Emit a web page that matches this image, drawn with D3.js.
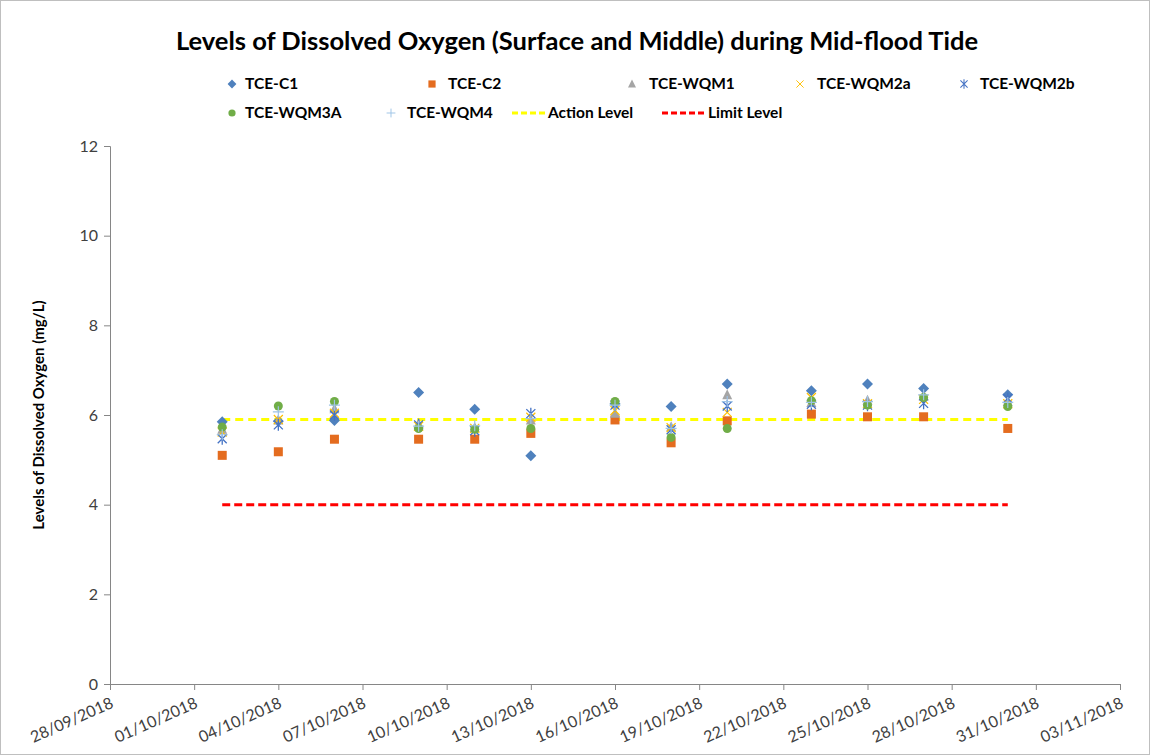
<!DOCTYPE html>
<html>
<head>
<meta charset="utf-8">
<script src="https://cdn.jsdelivr.net/npm/d3@7"></script>
<style>
  html, body { margin: 0; padding: 0; background: #ffffff; }
  svg text { font-family: Lato, "Open Sans", sans-serif; }
</style>
</head>
<body>
<svg id="chart" width="1150" height="755"></svg>
<script>
// ---------------- data ----------------
const sampleDates = ["02/10/2018","04/10/2018","06/10/2018","09/10/2018","11/10/2018","13/10/2018",
                     "16/10/2018","18/10/2018","20/10/2018","23/10/2018","25/10/2018","27/10/2018","30/10/2018"];
const seriesNames = ["TCE-C1","TCE-C2","TCE-WQM1","TCE-WQM2a","TCE-WQM2b","TCE-WQM3A","TCE-WQM4"];
const tceC1    = [5.85, 5.86, 5.88, 6.50, 6.13, 5.09, 6.25, 6.19, 6.69, 6.54, 6.69, 6.59, 6.45];
const tceC2    = [5.10, 5.18, 5.46, 5.46, 5.46, 5.59, 5.89, 5.38, 5.87, 6.02, 5.96, 5.96, 5.70];
const tceWQM1  = [5.68, 5.89, 6.14, 5.81, 5.72, 5.89, 6.04, 5.74, 6.45, 6.28, 6.33, 6.42, 6.30];
const tceWQM2a = [5.62, 5.90, 6.04, 5.75, 5.70, 5.95, 6.10, 5.72, 6.06, 6.39, 6.25, 6.35, 6.25];
const tceWQM2b = [5.47, 5.78, 6.00, 5.78, 5.65, 6.03, 6.22, 5.67, 6.20, 6.24, 6.22, 6.26, 6.37];
const tceWQM3A = [5.73, 6.20, 6.30, 5.70, 5.68, 5.70, 6.30, 5.50, 5.70, 6.32, 6.22, 6.39, 6.19];
const tceWQM4  = [5.56, 6.07, 6.22, 5.75, 5.76, 5.92, 6.22, 5.70, 6.30, 6.28, 6.30, 6.45, 6.28];
const actionLevel = 5.9;
const limitLevel = 4;
const xTickLabels = ["28/09/2018","01/10/2018","04/10/2018","07/10/2018","10/10/2018","13/10/2018",
                     "16/10/2018","19/10/2018","22/10/2018","25/10/2018","28/10/2018","31/10/2018","03/11/2018"];
const yTickValues = [0, 2, 4, 6, 8, 10, 12];

// ---------------- setup ----------------
const parse = d3.timeParse("%d/%m/%Y");
const fmt = d3.timeFormat("%d/%m/%Y");
const svg = d3.select("#chart");
const W = 1150, H = 755;
const plotL = 110, plotR = 1120, plotT = 146, plotB = 684;

svg.append("rect").attr("x", 0.5).attr("y", 0.5).attr("width", W - 1).attr("height", H - 1)
  .attr("fill", "#fff").attr("stroke", "#bfbfbf").attr("stroke-width", 1);

const xTickDates = xTickLabels.map(parse);
const x = d3.scaleTime().domain([xTickDates[0], xTickDates[xTickDates.length - 1]]).range([plotL, plotR]);
const y = d3.scaleLinear().domain([0, 12]).range([plotB, plotT]);

// title
svg.append("text").attr("x", 577).attr("y", 50).attr("text-anchor", "middle")
  .attr("font-size", 25.5).attr("font-weight", "bold").attr("fill", "#000")
  .text("Levels of Dissolved Oxygen (Surface and Middle) during Mid-flood Tide");

// axes
const yAxis = d3.axisLeft(y).tickValues(yTickValues).tickSize(6).tickPadding(6).tickFormat(d3.format("d"));
const gy = svg.append("g").attr("transform", `translate(${plotL},0)`).call(yAxis);
gy.select(".domain").attr("stroke", "#868686");
gy.selectAll(".tick line").attr("stroke", "#868686");
gy.selectAll(".tick text").attr("font-size", 16).attr("fill", "#404040")
  .style("font-family", "Lato, sans-serif");

const xAxis = d3.axisBottom(x).tickValues(xTickDates).tickSize(6).tickFormat(fmt);
const gx = svg.append("g").attr("transform", `translate(0,${plotB})`).call(xAxis);
gx.select(".domain").attr("stroke", "#868686");
gx.selectAll(".tick line").attr("stroke", "#868686");
gx.selectAll(".tick text").attr("font-size", 16).attr("fill", "#404040")
  .style("font-family", "Lato, sans-serif")
  .attr("text-anchor", "end").attr("dy", null).attr("y", 0)
  .attr("transform", "translate(4,23) rotate(-24)");

// y axis title
svg.append("text").attr("transform", `translate(44,${(plotT + plotB) / 2}) rotate(-90)`)
  .attr("text-anchor", "middle").attr("font-size", 15).attr("font-weight", "bold").attr("fill", "#000")
  .text("Levels of Dissolved Oxygen (mg/L)");

// reference lines
const dFirst = parse(sampleDates[0]), dLast = parse(sampleDates[sampleDates.length - 1]);
svg.append("line").attr("x1", x(dFirst)).attr("x2", x(dLast)).attr("y1", y(limitLevel)).attr("y2", y(limitLevel))
  .attr("stroke", "#ff0000").attr("stroke-width", 3).attr("stroke-dasharray", "8,4");
svg.append("line").attr("x1", x(dFirst)).attr("x2", x(dLast)).attr("y1", y(actionLevel)).attr("y2", y(actionLevel))
  .attr("stroke", "#ffff00").attr("stroke-width", 3).attr("stroke-dasharray", "8,5");

// marker drawing
const colors = ["#4f81bd", "#e46c1f", "#a5a5a5", "#ffc000", "#4472c4", "#70ad47", "#9dc3e6"];
function drawMarker(g, type, cx, cy, color, k) {
  k = k || 1;
  const s = g.append("g").attr("transform", `translate(${cx},${cy}) scale(${k})`);
  if (type === 0) {
    s.append("path").attr("d", "M0,-5.5L5.5,0L0,5.5L-5.5,0Z").attr("fill", color);
  } else if (type === 1) {
    s.append("rect").attr("x", -4.5).attr("y", -4.5).attr("width", 9).attr("height", 9).attr("fill", color);
  } else if (type === 2) {
    s.append("path").attr("d", "M0,-5.5L5,4.5L-5,4.5Z").attr("fill", color);
  } else if (type === 3) {
    s.append("path").attr("d", "M-4.5,-4.5L4.5,4.5M-4.5,4.5L4.5,-4.5").attr("stroke", color).attr("stroke-width", 1.2).attr("fill", "none");
  } else if (type === 4) {
    s.append("path").attr("d", "M-4.5,-4.5L4.5,4.5M-4.5,4.5L4.5,-4.5M0,-6L0,6").attr("stroke", color).attr("stroke-width", 1.3).attr("fill", "none");
  } else if (type === 5) {
    s.append("circle").attr("r", 4.5).attr("fill", color);
  } else if (type === 6) {
    s.append("path").attr("d", "M-5.5,0L5.5,0M0,-5.5L0,5.5").attr("stroke", color).attr("stroke-width", 1.2).attr("fill", "none");
  }
}

const allSeries = [tceC1, tceC2, tceWQM1, tceWQM2a, tceWQM2b, tceWQM3A, tceWQM4];
const dates = sampleDates.map(parse);
allSeries.forEach((vals, si) => {
  const g = svg.append("g").attr("class", "series-" + si);
  vals.forEach((v, i) => drawMarker(g, si, x(dates[i]), y(v), colors[si]));
});

// legend
const leg = svg.append("g").attr("font-size", 15.5).attr("font-weight", "bold");
const legItems = [
  {t: 0, sx: 232, tx: 245, yy: 84},
  {t: 1, sx: 432, tx: 448, yy: 84},
  {t: 2, sx: 632, tx: 649, yy: 84},
  {t: 3, sx: 800, tx: 817, yy: 84},
  {t: 4, sx: 964, tx: 980, yy: 84},
  {t: 5, sx: 232, tx: 245, yy: 113},
  {t: 6, sx: 391, tx: 407, yy: 113}
];
legItems.forEach(it => {
  drawMarker(leg, it.t, it.sx, it.yy, colors[it.t], 0.8);
  leg.append("text").attr("x", it.tx).attr("y", it.yy + 5).attr("fill", "#000").text(seriesNames[it.t]);
});
leg.append("line").attr("x1", 512).attr("x2", 546).attr("y1", 113).attr("y2", 113)
  .attr("stroke", "#ffff00").attr("stroke-width", 3).attr("stroke-dasharray", "6,3");
leg.append("text").attr("x", 548).attr("y", 118).attr("fill", "#000").text("Action Level");
leg.append("line").attr("x1", 662).attr("x2", 706).attr("y1", 113).attr("y2", 113)
  .attr("stroke", "#ff0000").attr("stroke-width", 3).attr("stroke-dasharray", "6,3");
leg.append("text").attr("x", 708).attr("y", 118).attr("fill", "#000").text("Limit Level");
</script>
</body>
</html>
